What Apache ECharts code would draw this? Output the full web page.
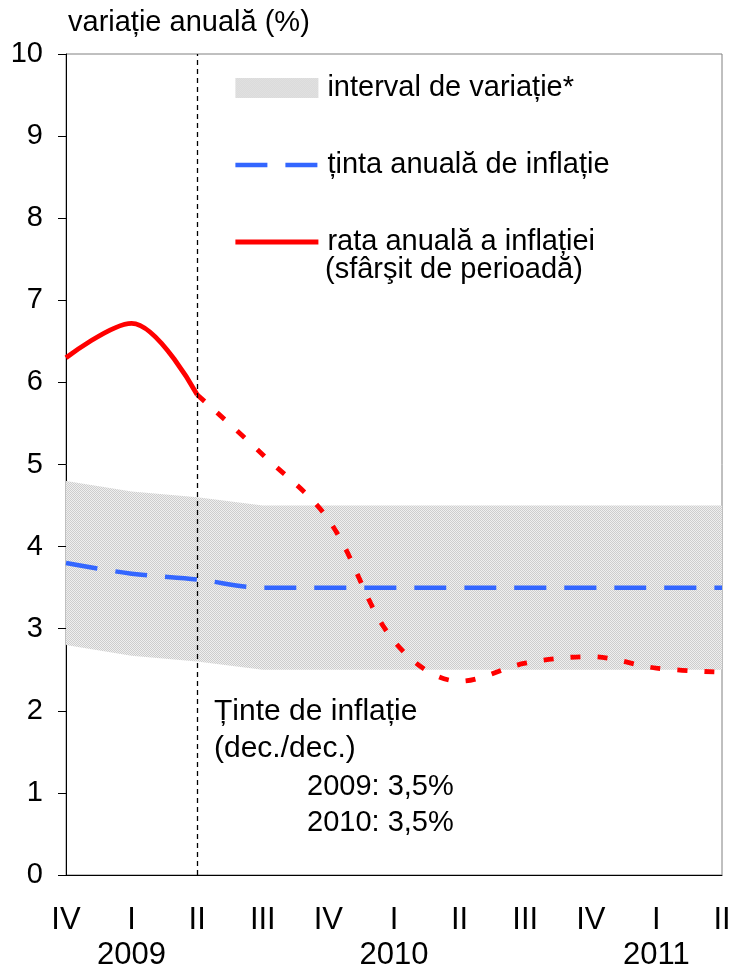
<!DOCTYPE html>
<html><head><meta charset="utf-8">
<script src="https://cdn.jsdelivr.net/npm/echarts@6/dist/echarts.min.js"></script>
<style>html,body{margin:0;padding:0;background:#fff}#c{width:734px;height:967px}</style>
</head><body><div id="c"></div>
<script>
// ---- data ----
const categories = ['IV 2008','I 2009','II 2009','III 2009','IV 2009','I 2010','II 2010','III 2010','IV 2010','I 2011','II 2011'];
const quarterLabels = ['IV','I','II','III','IV','I','II','III','IV','I','II'];
const yearLabels = ['','2009','','','','2010','','','','2011',''];
const inflationActual = [6.3, 6.72, 5.85, null, null, null, null, null, null, null, null];
const inflationForecast = [null, null, 5.85, 5.12, 4.33, 2.85, 2.36, 2.58, 2.66, 2.52, 2.47];
const targetLine = [3.8, 3.67, 3.6, 3.5, 3.5, 3.5, 3.5, 3.5, 3.5, 3.5, 3.5];
const bandLow = [2.8, 2.67, 2.6, 2.5, 2.5, 2.5, 2.5, 2.5, 2.5, 2.5, 2.5];
const bandHigh = [4.8, 4.67, 4.6, 4.5, 4.5, 4.5, 4.5, 4.5, 4.5, 4.5, 4.5];
const yTicks = [0,1,2,3,4,5,6,7,8,9,10];

const FONT = 'Liberation Sans, Arial, sans-serif';
const FS = 29;
const BLUE = '#3366FF', RED = '#FF0000';

// hatched pattern for the band
const pc = document.createElement('canvas');
pc.width = 2; pc.height = 2;
const px = pc.getContext('2d');
px.fillStyle = '#efefef'; px.fillRect(0,0,2,2);
px.fillStyle = '#cdcdcd'; px.fillRect(0,0,1,1); px.fillRect(1,1,1,1);
const pattern = {image: pc, repeat: 'repeat'};

const bandWidth = bandHigh.map((h,i) => +(h - bandLow[i]).toFixed(3));

const chart = echarts.init(document.getElementById('c'), null, {renderer: 'canvas'});
chart.setOption({
  animation: false,
  backgroundColor: '#fff',
  textStyle: {fontFamily: FONT},
  grid: {left: 66, right: 12, top: 54, bottom: 92, containLabel: false, outerBoundsMode: 'none',
         show: true, borderColor: '#808080', borderWidth: 1, backgroundColor: 'transparent'},
  legend: {
    left: 233, top: 73, orient: 'vertical', itemWidth: 83, itemHeight: 20, itemGap: 47, padding: 0,
    selectedMode: false,
    textStyle: {fontSize: FS, fontFamily: FONT, color: '#000', lineHeight: 30, padding: [0,0,0,4]},
    data: [
      {name: 'interval de variație*', icon: 'rect', itemStyle: {color: pattern, borderWidth: 0}},
      {name: 'ținta anuală de inflație', itemStyle: {opacity: 0}, lineStyle: {color: BLUE, width: 4.5, type: [32,18], opacity: 1}},
      {name: 'rata anuală a inflației', itemStyle: {opacity: 0}, lineStyle: {color: RED, width: 4.8, type: 'solid', opacity: 1}}
    ]
  },
  xAxis: {
    type: 'category', data: categories, boundaryGap: false,
    axisLine: {lineStyle: {color: '#000', width: 1}},
    axisTick: {show: false},
    splitLine: {show: false},
    axisLabel: {
      interval: 0, margin: 28, fontSize: 31, fontFamily: FONT, color: '#000', lineHeight: 35,
      formatter: (v, i) => quarterLabels[i] + (yearLabels[i] ? '\n' + yearLabels[i] : '')
    }
  },
  yAxis: {
    type: 'value', min: yTicks[0], max: yTicks[yTicks.length-1], interval: 1,
    axisLine: {show: true, lineStyle: {color: '#000', width: 1}},
    axisTick: {show: true, length: 8, lineStyle: {color: '#000'}},
    splitLine: {show: false},
    axisLabel: {margin: 23, fontSize: FS, fontFamily: FONT, color: '#000'}
  },
  graphic: [
    {type: 'text', left: 68, top: 8, style: {text: 'variație anuală (%)', font: FS + 'px ' + FONT, fill: '#000'}},
    {type: 'text', left: 325, top: 255, style: {text: '(sfârşit de perioadă)', font: FS + 'px ' + FONT, fill: '#000'}},
    {type: 'text', left: 214, top: 693, style: {text: 'Ținte de inflație\n(dec./dec.)', font: '30px ' + FONT, fill: '#000', lineHeight: 37}},
    {type: 'text', left: 307, top: 769, style: {text: '2009: 3,5%\n2010: 3,5%', font: FS + 'px ' + FONT, fill: '#000', lineHeight: 36}}
  ],
  series: [
    {
      name: 'bandBase', type: 'line', stack: 'band', data: bandLow, symbol: 'none', silent: true,
      lineStyle: {width: 0, opacity: 0}, z: 1
    },
    {
      name: 'interval de variație*', type: 'line', stack: 'band', data: bandWidth, symbol: 'none', silent: true,
      lineStyle: {width: 0, opacity: 0}, areaStyle: {color: pattern, opacity: 1}, itemStyle: {color: '#d0d0d0'}, z: 1,
      markLine: {
        silent: true, symbol: ['none','none'], label: {show: false},
        lineStyle: {color: '#000', type: [5,4], width: 1.3},
        data: [{xAxis: 'II 2009'}]
      }
    },
    {
      name: 'ținta anuală de inflație', type: 'line', data: targetLine, symbol: 'none', smooth: 0.35,
      lineStyle: {color: BLUE, width: 4.5, type: [32,18]}, itemStyle: {color: BLUE}, z: 3
    },
    {
      name: 'rata anuală a inflației', type: 'line', data: inflationActual, symbol: 'none', smooth: 0.35,
      lineStyle: {color: RED, width: 4.8}, itemStyle: {color: RED}, z: 4
    },
    {
      name: 'rata anuală (prognoză)', type: 'line', data: inflationForecast, symbol: 'none', smooth: 0.35,
      lineStyle: {color: RED, width: 4.8, type: [10,17]}, itemStyle: {color: RED}, z: 4
    }
  ]
});
</script></body></html>
